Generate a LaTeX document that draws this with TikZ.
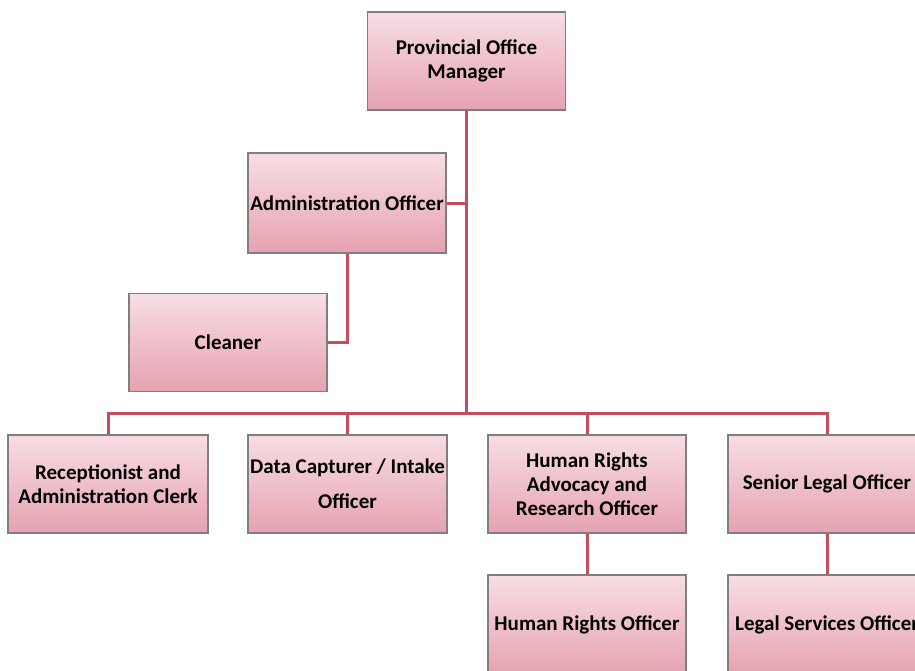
\documentclass[tikz,border=0pt]{standalone}
\usepackage{fontspec}
\setmainfont{Carlito}
\usetikzlibrary{positioning}
\definecolor{boxtop}{RGB}{247,222,228}
\definecolor{boxbot}{RGB}{230,162,176}
\definecolor{boxline}{RGB}{130,125,128}
\definecolor{conn}{RGB}{196,78,94}
\tikzset{
  orgbox/.style={draw=boxline, line width=1.3pt, top color=boxtop, bottom color=boxbot,
    minimum width=198pt, minimum height=98pt, inner sep=2pt, align=center,
    font=\fontsize{21}{24}\selectfont\bfseries, text=black},
  link/.style={draw=conn, line width=3pt}
}
\begin{document}
\begin{tikzpicture}[x=1pt,y=-1pt]
\useasboundingbox (0,0) rectangle (915,670);
\fill[white] (0,0) rectangle (915,670);
\node[orgbox] (pom) at (466.5,61) {Provincial Office\\Manager};
\node[orgbox, minimum height=100pt] (admin) at (347,203) {Administration Officer};
\node[orgbox] (cleaner) at (228,342.5) {Cleaner};
\node[orgbox, minimum width=200pt] (recep) at (108,484) {Receptionist and\\Administration Clerk};
\node[orgbox, minimum width=195pt] (data) at (347.5,484) {Data Capturer / Intake\\[11pt]Officer};
\node[orgbox] (hradv) at (587,484) {Human Rights\\Advocacy and\\Research Officer};
\node[orgbox] (senior) at (827,484) {Senior Legal Officer};
\node[orgbox, minimum height=100pt] (hro) at (587,625) {Human Rights Officer};
\node[orgbox, minimum height=100pt] (lso) at (827,625) {Legal Services Officer};
\coordinate (bus) at (466.5,413);
\draw[link] (pom.south) -- (bus);
\draw[link] (admin.east) -- (admin.east -| pom.south);
\draw[link] (admin.south) |- (cleaner.east);
\draw[link] (bus) -| (recep.north);
\draw[link] (bus) -| (data.north);
\draw[link] (bus) -| (hradv.north);
\draw[link] (bus) -| (senior.north);
\draw[link] (hradv.south) -- (hro.north);
\draw[link] (senior.south) -- (lso.north);
\end{tikzpicture}
\end{document}
